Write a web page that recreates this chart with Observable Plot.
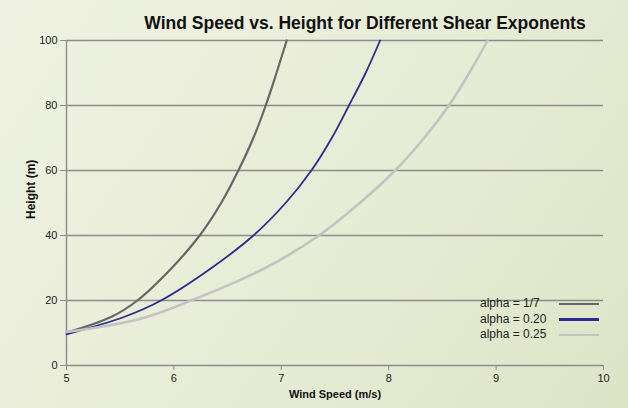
<!DOCTYPE html>
<html>
<head>
<meta charset="utf-8">
<script src="https://cdn.jsdelivr.net/npm/d3@7"></script>
<script src="https://cdn.jsdelivr.net/npm/@observablehq/plot@0.6"></script>
<style>
html,body{margin:0;padding:0;}
body{width:628px;height:408px;overflow:hidden;background:linear-gradient(125deg,#eff2e2 0%,#e7ecd5 55%,#dde4c6 100%);font-family:"Liberation Sans",Arial,sans-serif;}
#wrap{position:relative;width:628px;height:408px;}
#wrap svg{display:block;}
#legend{position:absolute;left:480px;top:296px;font-size:12px;color:#222;line-height:15.5px;}
.row{position:relative;width:120px;height:15.5px;white-space:nowrap;}
.row .sw{position:absolute;left:79px;top:6.5px;width:40px;height:2.5px;}
</style>
</head>
<body>
<div id="wrap"></div>
<script>
const title = "Wind Speed vs. Height for Different Shear Exponents";
const xLabel = "Wind Speed (m/s)";
const yLabel = "Height (m)";
const xTicks = [5, 6, 7, 8, 9, 10];
const yTicks = [0, 20, 40, 60, 80, 100];

const seriesNames = ["alpha = 1/7", "alpha = 0.20", "alpha = 0.25"];
const seriesColors = ["#676767", "#2d2d8e", "#c3c3c3"];
const seriesWidths = [2.2, 1.8, 2.6];

// alpha = 1/7
const speedsA = [5.00, 5.42, 5.66, 5.98, 6.24, 6.44, 6.60, 6.74, 6.855, 6.955, 7.05];
const heightsA = [10.1, 15, 20, 30, 40, 50, 60, 70, 80, 90, 100];
// alpha = 0.20
const speedsB = [5.00, 5.54, 5.88, 6.35, 6.74, 7.04, 7.28, 7.47, 7.63, 7.785, 7.92];
const heightsB = [9.6, 15, 20, 30, 40, 50, 60, 70, 80, 90, 100];
// alpha = 0.25
const speedsC = [5.00, 5.69, 6.16, 6.85, 7.35, 7.73, 8.06, 8.33, 8.56, 8.75, 8.92];
const heightsC = [10.3, 14.4, 20, 30, 40, 50, 60, 70, 80, 90, 100];

const seriesData = [[speedsA, heightsA], [speedsB, heightsB], [speedsC, heightsC]];
const series = seriesNames.map((name, k) => ({
  name, color: seriesColors[k], width: seriesWidths[k],
  rows: seriesData[k][0].map((v, i) => ({v, h: seriesData[k][1][i]}))
}));

const grid = "#8c8c8c";
const chart = Plot.plot({
  width: 628, height: 408,
  marginTop: 40, marginRight: 25, marginBottom: 43, marginLeft: 66,
  style: {background: "transparent", fontFamily: "'Liberation Sans', Arial, sans-serif", fontSize: "11px", color: "#222"},
  x: {domain: [5, 10]},
  y: {domain: [0, 100]},
  marks: [
    Plot.gridY(yTicks.filter(t => t > 0), {stroke: grid, strokeOpacity: 1, strokeWidth: 1.4}),
    Plot.ruleY([0], {stroke: grid, strokeWidth: 1.4}),
    Plot.ruleX([5], {stroke: grid, strokeWidth: 1.4}),
    Plot.axisY(yTicks, {tickSize: 6, tickPadding: 3, stroke: grid, fill: "#222", label: null, fontSize: 11}),
    Plot.axisX(xTicks, {tickSize: 5, tickPadding: 4, stroke: grid, fill: "#222", label: null, fontSize: 11}),
    ...series.map(s => Plot.line(s.rows, {x: "v", y: "h", stroke: s.color, strokeWidth: s.width, curve: "catmull-rom"})),
    Plot.text([title], {text: d => d, frameAnchor: "top", dx: 30, dy: -24, fontWeight: "bold", fontSize: 17.5, fill: "#111"}),
    Plot.text([xLabel], {text: d => d, frameAnchor: "bottom", dy: 32, fontWeight: "bold", fontSize: 11, fill: "#111"}),
    Plot.text([yLabel], {text: d => d, frameAnchor: "left", rotate: -90, dx: -35, dy: 16, fontWeight: "bold", fontSize: 12, fill: "#111"})
  ]
});
const wrap = document.getElementById("wrap");
wrap.appendChild(chart);

const legend = document.createElement("div");
legend.id = "legend";
series.forEach(s => {
  const row = document.createElement("div");
  row.className = "row";
  const t = document.createElement("span");
  t.textContent = s.name;
  const sw = document.createElement("span");
  sw.className = "sw";
  sw.style.background = s.color;
  row.appendChild(t); row.appendChild(sw);
  legend.appendChild(row);
});
wrap.appendChild(legend);
</script>
</body>
</html>
